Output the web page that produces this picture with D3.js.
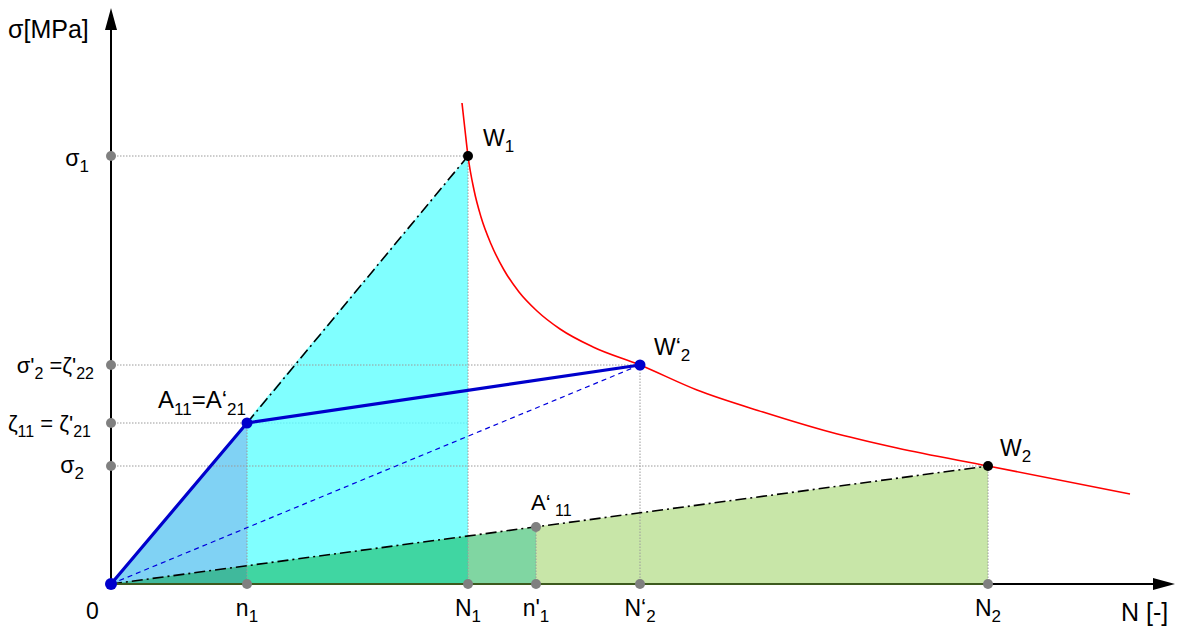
<!DOCTYPE html>
<html>
<head>
<meta charset="utf-8">
<script src="https://cdn.jsdelivr.net/npm/d3@7"></script>
<style>
  html, body { margin: 0; padding: 0; background: #fff; }
  svg text { font-family: "Liberation Sans", Arial, sans-serif; fill: #000; }
</style>
</head>
<body>
<svg id="chart" width="1178" height="628"></svg>
<script>
// ---- data (chart units: N along x, sigma along y) ----
const xTickNames = ["n", "N", "n'", "N‘", "N"];
const xTickSubs = ["1", "1", "1", "2", "2"];
const xTickValues = [136, 357, 425, 529, 877];

const yTickNames = ["σ", "σ'", "ζ", "σ"];
const yTickSubs = ["1", "2", "11", "2"];
const yTickValues = [428, 219, 161, 118];

// Wöhler curve (red)
const curveN = [351, 354, 357, 363, 370, 380, 393, 408, 426, 449, 482, 529, 586, 652, 719, 786, 877, 1019];
const curveSigma = [481, 454, 428, 394, 367, 340, 314, 292, 273, 255, 237, 219, 194, 172, 152, 136, 118, 90];

// key points [N, sigma]
const pW1 = [357, 428];
const pW2p = [529, 219];
const pW2 = [877, 118];
const pA11 = [136, 161];
const pA11p = [425, 57];
const pO = [0, 0];

const svg = d3.select("#chart");
const x = d3.scaleLinear().domain([0, 1064]).range([111, 1175]);
const y = d3.scaleLinear().domain([0, 576]).range([584, 8]);

const P = p => [x(p[0]), y(p[1])];
const onLine = (end, n) => [n, end[1] * n / end[0]];

function poly(points, fill) {
  svg.append("path")
    .attr("d", d3.line()(points.map(P)) + "Z")
    .attr("fill", fill).attr("stroke", "none");
}

// ---- filled areas ----
poly([pO, pW1, [pW1[0], 0]], "#80ffff");
poly([pO, pA11, [pA11[0], 0]], "#80d2f4");
poly([pO, pW2, [pW2[0], 0]], "#c8e6a8");
poly([pO, pA11p, [pA11p[0], 0]], "#80d6a2");
poly([pO, onLine(pW2, pW1[0]), [pW1[0], 0]], "#40d6a2");
poly([pO, onLine(pW2, pA11[0]), [pA11[0], 0]], "#40b99c");

// ---- dotted guide lines ----
const guide = "#9a9a9a";
function dotted(a, b, col) {
  svg.append("line")
    .attr("x1", x(a[0])).attr("y1", y(a[1]))
    .attr("x2", x(b[0])).attr("y2", y(b[1]))
    .attr("stroke", col || guide).attr("stroke-width", 1)
    .attr("stroke-dasharray", "1.5,1.5");
}
dotted([0, pW1[1]], pW1);
dotted([0, pW2p[1]], pW2p);
dotted([0, pA11[1]], pA11);
dotted(pA11, [pW1[0], pA11[1]], "#66e8ee");
dotted([0, pW2[1]], pW2);
dotted([pA11[0], 0], pA11);
dotted([pW1[0], 0], pW1);
dotted([pA11p[0], 0], pA11p);
dotted([pW2p[0], 0], pW2p);
dotted([pW2[0], 0], pW2);

// ---- red curve ----
const curvePts = curveN.map((n, i) => [x(n), y(curveSigma[i])]);
svg.append("path")
  .attr("d", d3.line().curve(d3.curveMonotoneX)(curvePts))
  .attr("fill", "none").attr("stroke", "#ff0000").attr("stroke-width", 1.6);

// ---- dash-dot black lines ----
function dashdot(a, b) {
  svg.append("line")
    .attr("x1", x(a[0])).attr("y1", y(a[1]))
    .attr("x2", x(b[0])).attr("y2", y(b[1]))
    .attr("stroke", "#000").attr("stroke-width", 1.6)
    .attr("stroke-dasharray", "11,4,2,4");
}
dashdot(pA11, pW1);
dashdot(pO, pW2);

// ---- blue lines ----
svg.append("line")
  .attr("x1", x(0)).attr("y1", y(0)).attr("x2", x(pW2p[0])).attr("y2", y(pW2p[1]))
  .attr("stroke", "#0000dd").attr("stroke-width", 1.2).attr("stroke-dasharray", "5,4");
svg.append("path")
  .attr("d", d3.line()([pO, pA11, pW2p].map(P)))
  .attr("fill", "none").attr("stroke", "#0000cc").attr("stroke-width", 3.2)
  .attr("stroke-linejoin", "round");

// ---- axes ----
const axisG = svg.append("g");
axisG.append("line").attr("x1", x(0)).attr("y1", y(0)).attr("x2", x(0)).attr("y2", y(576) + 12)
  .attr("stroke", "#000").attr("stroke-width", 2);
axisG.append("line").attr("x1", x(0)).attr("y1", y(0)).attr("x2", x(1064) - 12).attr("y2", y(0))
  .attr("stroke", "#000").attr("stroke-width", 2);
axisG.append("line").attr("x1", x(0)).attr("y1", y(0)).attr("x2", x(pW2[0])).attr("y2", y(0))
  .attr("stroke", "#3d5a1e").attr("stroke-width", 2);
axisG.append("path")
  .attr("d", `M${x(0)},${y(576)} L${x(0) - 6},${y(576) + 22} L${x(0) + 6},${y(576) + 22} Z`)
  .attr("fill", "#000");
axisG.append("path")
  .attr("d", `M${x(1064)},${y(0)} L${x(1064) - 22},${y(0) - 6} L${x(1064) - 22},${y(0) + 6} Z`)
  .attr("fill", "#000");

// ---- dots ----
function dot(p, col, r) {
  svg.append("circle").attr("cx", x(p[0])).attr("cy", y(p[1])).attr("r", r).attr("fill", col);
}
const gray = "#808080";
yTickValues.forEach(v => dot([0, v], gray, 5));
xTickValues.forEach(v => dot([v, 0], gray, 5));
dot(pA11p, gray, 5);
dot(pW1, "#000", 5);
dot(pW2, "#000", 5);
dot(pO, "#0000cc", 6);
dot(pA11, "#0000cc", 5.5);
dot(pW2p, "#0000cc", 5.5);

// ---- text labels ----
function label(px, py, parts, anchor, size) {
  const fs = size || 22;
  const sfs = Math.round(fs * 0.72);
  const dy = Math.round(fs * 0.28);
  const t = svg.append("text")
    .attr("x", px).attr("y", py)
    .attr("font-size", fs)
    .attr("text-anchor", anchor || "start");
  let shifted = false;
  parts.forEach(([s, sub]) => {
    const ts = t.append("tspan").text(s);
    if (sub && !shifted) { ts.attr("font-size", sfs).attr("dy", dy); shifted = true; }
    else if (sub) { ts.attr("font-size", sfs); }
    else if (!sub && shifted) { ts.attr("dy", -dy); shifted = false; }
  });
  return t;
}

label(8, 38, [["σ[MPa]"]], "start", 25);
label(1121, 621, [["N [-]"]], "start", 25);
label(86, 619, [["0"]], "start", 23);

// x tick labels
xTickValues.forEach((v, i) => {
  label(x(v), 616, [[xTickNames[i]], [xTickSubs[i], true]], "middle", 23);
});

// y tick labels
label(89, 166, [[yTickNames[0]], [yTickSubs[0], true]], "end", 23);
label(94, 373, [[yTickNames[1]], [yTickSubs[1], true], [" =ζ'"], ["22", true]], "end");
label(91, 431, [[yTickNames[2]], [yTickSubs[2], true], [" = ζ'"], ["21", true]], "end");
label(84, 473, [[yTickNames[3]], [yTickSubs[3], true]], "end", 23);

// point labels
label(483, 146, [["W"], ["1", true]], "start", 23);
label(654, 355, [["W‘"], ["2", true]], "start", 23);
label(1000, 456, [["W"], ["2", true]], "start", 23);
label(158, 408, [["A"], ["11", true], ["=A‘"], ["21", true]], "start", 24);
label(531, 510, [["A‘"], [" 11", true]]);
</script>
</body>
</html>
